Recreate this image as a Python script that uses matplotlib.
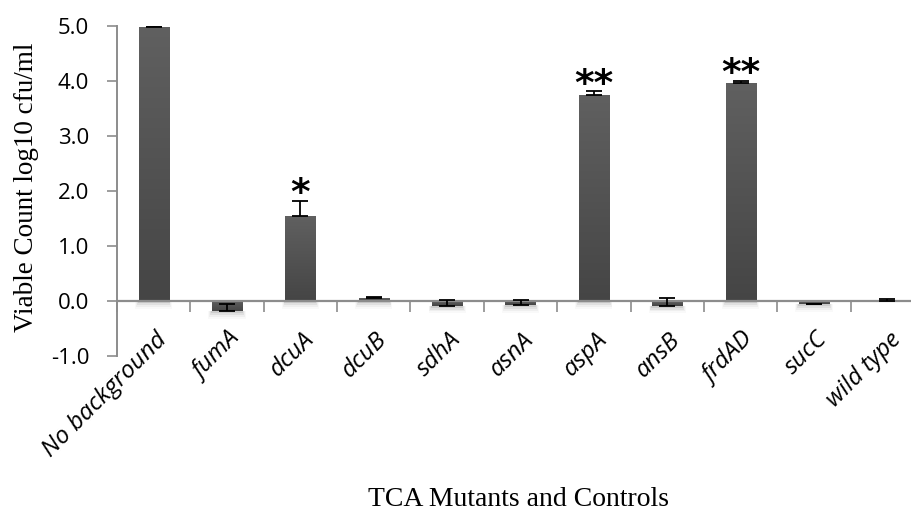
import numpy as np
import matplotlib
matplotlib.use("Agg")
import matplotlib.pyplot as plt
from matplotlib.colors import LinearSegmentedColormap
from matplotlib.patches import Rectangle
from matplotlib.transforms import ScaledTranslation

# Viable counts (log10 cfu/ml) for each strain, with upward error
strains = ["No background", "fumA", "dcuA", "dcuB", "sdhA", "asnA",
           "aspA", "ansB", "frdAD", "sucC", "wild type"]
counts = [4.99, -0.19, 1.54, 0.05, -0.085, -0.08, 3.74, -0.085, 3.96, -0.06, 0.0]
errors = [0.01, 0.14, 0.28, 0.03, 0.10, 0.10, 0.07, 0.145, 0.04, 0.01, 0.04]
stars = ["", "", "*", "", "", "", "**", "", "**", "", ""]

yticks = [-1.0, 0.0, 1.0, 2.0, 3.0, 4.0, 5.0]

fig = plt.figure(figsize=(9.11, 5.12), dpi=100)
ax = fig.add_axes([117 / 911, 1 - 356 / 512, (924 - 117) / 911, (356 - 26) / 512])

n = len(strains)
x = np.arange(n)
width = 0.41
ax.set_xlim(-0.5, n - 0.5)
ax.set_ylim(-1.0, 5.0)

cmap = LinearSegmentedColormap.from_list("bar", ["#454545", "#606060"])
grad = np.linspace(0, 1, 256).reshape(-1, 1)

for xi, v in zip(x, counts):
    lo, hi = min(0, v), max(0, v)
    if hi - lo <= 0:
        continue
    # soft shadow just below each bar
    for k, a in enumerate([0.09, 0.06, 0.04, 0.025]):
        d = 0.012 * (k + 1)
        ax.add_patch(Rectangle((xi - width / 2 - d, lo - 0.035 * (k + 1)), width + 2 * d,
                               0.035 * (k + 1), facecolor="black", alpha=a,
                               edgecolor="none", zorder=1))
    im = ax.imshow(grad, cmap=cmap, aspect="auto", origin="lower",
                   extent=[xi - width / 2, xi + width / 2, lo, hi], zorder=2)
    clip = Rectangle((xi - width / 2, lo), width, hi - lo, transform=ax.transData,
                     facecolor="none", edgecolor="none")
    ax.add_patch(clip)
    im.set_clip_path(clip)

ax.errorbar(x, counts, yerr=[np.zeros(n), errors], fmt="none", ecolor="black",
            elinewidth=1.3, capsize=6, capthick=1.3, zorder=4)

for xi, v, e, s in zip(x, counts, errors, stars):
    if s:
        ax.annotate(s, (xi, v + e), xytext=(0, -2.5), textcoords="offset points",
                    ha="center", va="baseline", fontsize=27, fontweight="bold",
                    family="DejaVu Sans", color="black", zorder=5)

ax.axhline(0, color="#8c8c8c", lw=1.6, zorder=3)

for side in ["top", "right", "bottom"]:
    ax.spines[side].set_visible(False)
ax.spines["left"].set_color("#8c8c8c")
ax.spines["left"].set_linewidth(1.4)

ax.set_yticks(yticks)
ax.set_yticklabels([f"{t:.1f}" for t in yticks], fontsize=16, family="Open Sans")
ax.tick_params(axis="y", direction="out", length=7, width=1.2, color="#8c8c8c", pad=13)

# category labels, angled, sitting just above the lower axis limit
ax.set_xticks([])
lbl_shift = ScaledTranslation(10 / 100, 20 / 100, fig.dpi_scale_trans)
for xi, name in zip(x, strains):
    ax.text(xi, -1.0, name, rotation=45, ha="right", va="center",
            rotation_mode="anchor", fontsize=17.5, family="Open Sans", style="italic",
            transform=ax.transData + lbl_shift, clip_on=False)

# category boundary ticks along the zero line
zero_frac = (0 - (-1.0)) / (5.0 - (-1.0))
sec = ax.secondary_xaxis(zero_frac)
sec.set_xticks(np.arange(-0.5, n, 1.0))
sec.set_xticklabels([])
sec.spines["bottom"].set_visible(False)
sec.spines["top"].set_visible(False)
sec.tick_params(axis="x", direction="out", length=8, width=1.2, color="#8c8c8c",
                bottom=True, top=False)

fig.text(27 / 911, 1 - 187 / 512, "Viable Count log10 cfu/ml", rotation=90,
         ha="center", va="center", fontsize=19.5, family="Liberation Serif")
fig.text(519 / 911, 1 - 506 / 512, "TCA Mutants and Controls",
         ha="center", va="baseline", fontsize=20, family="Liberation Serif")

fig.savefig("out.png", dpi=100)
